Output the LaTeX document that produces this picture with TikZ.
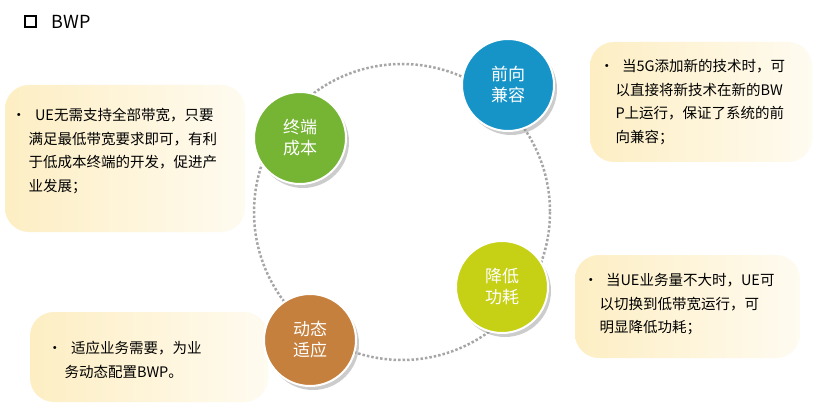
\documentclass[tikz,border=0pt]{standalone}
\usepackage{fontspec}
\setmainfont{Noto Sans CJK SC}
\usetikzlibrary{shadows}
\definecolor{cg}{RGB}{118,180,52}
\definecolor{cb}{RGB}{22,148,200}
\definecolor{cy}{RGB}{198,208,20}
\definecolor{co}{RGB}{198,128,62}
\definecolor{pale}{RGB}{253,238,195}
\tikzset{
  ball/.style={circle,minimum size=92pt,inner sep=0pt,text=white,font=\fontsize{17}{21}\selectfont,align=center,draw=white,line width=2pt,drop shadow={shadow xshift=3pt,shadow yshift=-4pt,opacity=0.4}},
  panel/.style={rounded corners=24pt,left color=pale,right color=pale!25},
  txt/.style={font=\fontsize{14.5}{23.5}\selectfont,align=left,anchor=north west}
}
\begin{document}
\begin{tikzpicture}[x=1pt,y=-1pt]
\useasboundingbox[fill=white] (0,0) rectangle (824,414);
\node[draw,line width=2pt,minimum size=11pt,inner sep=0pt] (sq) at (30,22) {};
\node[anchor=west,font=\fontsize{18}{20}\selectfont] (t) at (48,22) {BWP};
\draw[dotted,line width=2.5pt,gray!70] (402,212) circle (148);
\shade[panel] (5,85) rectangle (245,232);
\shade[panel] (590,42) rectangle (812,162);
\shade[panel] (575,255) rectangle (800,358);
\shade[panel] (30,312) rectangle (268,402);
\node[ball,fill=cg] (a) at (300,138) {终端\\成本};
\node[ball,fill=cb] (b) at (508,85) {前向\\兼容};
\node[ball,fill=cy] (c) at (502,287) {降低\\功耗};
\node[ball,fill=co] (d) at (310,340) {动态\\适应};
\node[txt] (ta) at (8,105) {•\hspace{9pt}UE无需支持全部带宽，只要\\\hspace{17pt}满足最低带宽要求即可，有利\\\hspace{17pt}于低成本终端的开发，促进产\\\hspace{17pt}业发展；};
\node[txt] (tb) at (596,56) {•\hspace{8pt}当5G添加新的技术时，可\\\hspace{16pt}以直接将新技术在新的BW\\\hspace{16pt}P上运行，保证了系统的前\\\hspace{16pt}向兼容；};
\node[txt] (tc) at (580,270) {•\hspace{8pt}当UE业务量不大时，UE可\\\hspace{16pt}以切换到低带宽运行，可\\\hspace{16pt}明显降低功耗；};
\node[txt] (td) at (44,338) {•\hspace{9pt}适应业务需要，为业\\\hspace{17pt}务动态配置BWP。};
\end{tikzpicture}
\end{document}
